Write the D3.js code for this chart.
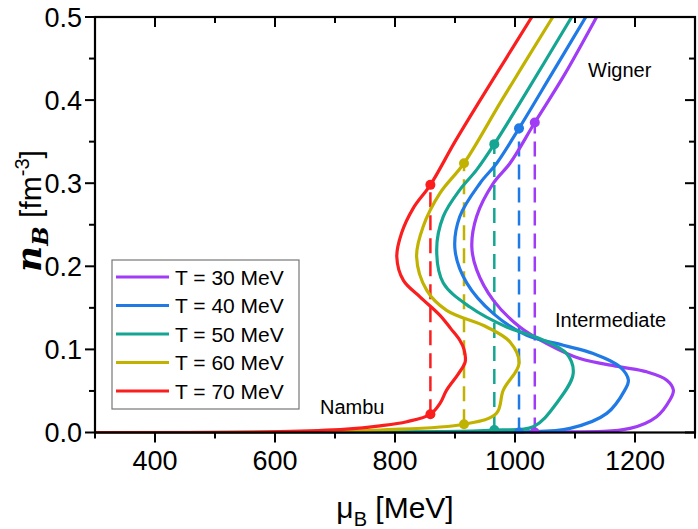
<!DOCTYPE html>
<html>
<head>
<meta charset="utf-8">
<script src="https://cdn.jsdelivr.net/npm/d3@7"></script>
<style>
  body { margin: 0; background: #fff; }
  text { font-family: "Liberation Sans", Arial, sans-serif; fill: #000; }
</style>
</head>
<body>
<div id="chart"></div>
<script>
//Temperatures and colours
var temps = ["T = 30 MeV", "T = 40 MeV", "T = 50 MeV", "T = 60 MeV", "T = 70 MeV"];
var colors = ["#a03cf5", "#1f7ae6", "#15a693", "#c2b200", "#fa1e1e"];

//Curves: baryon density nB and chemical potential muB
var nB30 = [0, 0.0005, 0.005, 0.019, 0.039, 0.051, 0.063, 0.073, 0.079, 0.089, 0.107, 0.127, 0.159, 0.196, 0.224, 0.26, 0.3, 0.324, 0.373, 0.43, 0.5];
var mu30 = [300, 1033, 1191.7, 1236, 1258, 1264, 1253, 1219.5, 1175, 1108, 1053, 1008, 964, 936, 928, 936, 964, 991.7, 1033, 1082, 1136];

var nB40 = [0, 0.0005, 0.005, 0.023, 0.051, 0.063, 0.079, 0.095, 0.105, 0.117, 0.143, 0.18, 0.22, 0.26, 0.3, 0.324, 0.366, 0.43, 0.5];
var mu40 = [300, 1006.7, 1091.7, 1153, 1183, 1189, 1175, 1130.5, 1080.5, 1019.5, 964, 919.5, 900, 908, 941.7, 969.5, 1006.7, 1060, 1118];

var nB50 = [0, 0.001, 0.003, 0.007, 0.035, 0.071, 0.095, 0.113, 0.127, 0.151, 0.18, 0.22, 0.26, 0.292, 0.316, 0.347, 0.4, 0.5];
var mu50 = [300, 880, 965.5, 1030.5, 1069, 1097, 1086, 1041.7, 986, 925, 880.5, 869.5, 880.5, 908, 936, 965.5, 1011, 1094.5];

var nB60 = [0, 0.001, 0.003, 0.0099, 0.023, 0.051, 0.083, 0.109, 0.127, 0.147, 0.171, 0.2115, 0.248, 0.288, 0.324, 0.4, 0.5];
var mu60 = [300, 700, 775, 915, 969, 980.5, 1006.7, 991.7, 952.8, 886, 853, 836, 847, 875, 915, 978, 1063];

var nB70 = [0, 0.001, 0.004, 0.008, 0.013, 0.022, 0.035, 0.051, 0.07, 0.085, 0.1, 0.111, 0.125, 0.141, 0.163, 0.183, 0.2115, 0.24, 0.27, 0.298, 0.35, 0.4, 0.45, 0.5];
var mu70 = [300, 608, 719, 775, 819.5, 859, 875, 886, 905, 917, 915, 908, 893, 875, 842, 814, 803, 811, 830.5, 859, 900, 942, 985, 1028];

//Phase transition points (dashed lines)
var muT = [1033, 1006.7, 965.5, 915, 859];
var nLow = [0, 0, 0.003, 0.0099, 0.022];
var nHigh = [0.373, 0.366, 0.347, 0.324, 0.298];

var xTicks = [400, 600, 800, 1000, 1200];
var yTicks = [0, 0.1, 0.2, 0.3, 0.4, 0.5];

var series = [[nB30, mu30], [nB40, mu40], [nB50, mu50], [nB60, mu60], [nB70, mu70]];

//Setup SVG size vars
var W = 698, H = 529;
var margin = { top: 17, right: 3, bottom: 96.5, left: 95 },
  width = W - margin.left - margin.right,
  height = H - margin.top - margin.bottom;

var svg = d3.select("#chart")
  .append("svg")
  .attr("width", W)
  .attr("height", H);

var g = svg.append("g")
  .attr("transform", "translate(" + margin.left + "," + margin.top + ")");

var x = d3.scaleLinear().domain([300, 1300]).range([0, width]);
var y = d3.scaleLinear().domain([0, 0.5]).range([height, 0]);

g.append("clipPath").attr("id", "clip")
  .append("rect").attr("width", width).attr("height", height + 2).attr("y", -1);

var line = d3.line()
  .x(function(d) { return x(d[1]); })
  .y(function(d) { return y(d[0]); })
  .curve(d3.curveCatmullRom.alpha(0.5));

var plot = g.append("g").attr("clip-path", "url(#clip)");

//Dashed transition lines
muT.forEach(function(m, i) {
  plot.append("line")
    .attr("x1", x(m)).attr("x2", x(m))
    .attr("y1", y(nLow[i])).attr("y2", y(nHigh[i]))
    .style("stroke", colors[i])
    .style("stroke-width", 2.5)
    .style("stroke-dasharray", "15,8");
});

//Curves
series.forEach(function(s, i) {
  var pts = s[0].map(function(n, k) { return [n, s[1][k]]; });
  plot.append("path")
    .datum(pts)
    .attr("d", line)
    .style("fill", "none")
    .style("stroke", colors[i])
    .style("stroke-width", 3.2)
    .style("stroke-linejoin", "round");
});

//Dots at transition
muT.forEach(function(m, i) {
  [nLow[i], nHigh[i]].forEach(function(n) {
    plot.append("circle")
      .attr("cx", x(m)).attr("cy", y(n)).attr("r", 5)
      .style("fill", colors[i]);
  });
});

//Axes
var tickVals = d3.range(300, 1301, 100);
var yMinor = d3.range(0, 0.501, 0.05);

function drawTicks(sel, vals, isX, pos, dir) {
  vals.forEach(function(v) {
    var major = isX ? (Math.round(v) % 200 === 0) : (Math.round(v * 100) % 10 === 0);
    var len = major ? 10 : 6;
    if (isX) {
      sel.append("line")
        .attr("x1", x(v)).attr("x2", x(v))
        .attr("y1", pos).attr("y2", pos + dir * len);
    } else {
      sel.append("line")
        .attr("y1", y(v)).attr("y2", y(v))
        .attr("x1", pos).attr("x2", pos + dir * len);
    }
  });
}

var axes = g.append("g").style("stroke", "#000").style("stroke-width", 2);
drawTicks(axes, tickVals, true, height, 1);
drawTicks(axes, tickVals, true, 0, 1);
drawTicks(axes, yMinor, false, 0, -1);
drawTicks(axes, yMinor, false, width, -1);

g.append("rect")
  .attr("width", width).attr("height", height)
  .style("fill", "none").style("stroke", "#000").style("stroke-width", 2.2);

g.selectAll(".xlab").data(xTicks).enter().append("text")
  .attr("x", function(d) { return x(d); })
  .attr("y", height + 37)
  .style("text-anchor", "middle")
  .style("font-size", "27px")
  .text(function(d) { return d; });

g.selectAll(".ylab").data(yTicks).enter().append("text")
  .attr("x", -13)
  .attr("y", function(d) { return y(d); })
  .attr("dy", "0.36em")
  .style("text-anchor", "end")
  .style("font-size", "27px")
  .text(function(d) { return d.toFixed(1); });

//Axis titles
var xt = svg.append("text")
  .attr("x", margin.left + width / 2)
  .attr("y", 518)
  .style("text-anchor", "middle")
  .style("font-size", "30px");
xt.append("tspan").text("\u03bc");
xt.append("tspan").attr("dy", 8).style("font-size", "20px").text("B");
xt.append("tspan").attr("dy", -8).text(" [MeV]");

var yt = svg.append("text")
  .attr("transform", "translate(41,211) rotate(-90)")
  .style("text-anchor", "middle")
  .style("font-size", "30px");
yt.append("tspan")
  .style("font-family", "'DejaVu Serif', serif")
  .style("font-style", "italic").style("font-weight", "bold")
  .style("font-size", "36px").text("n");
yt.append("tspan").attr("dy", 7)
  .style("font-family", "'DejaVu Serif', serif")
  .style("font-style", "italic").style("font-weight", "bold")
  .style("font-size", "23px").text("B");
yt.append("tspan").attr("dy", -7).text(" [fm");
yt.append("tspan").attr("dy", -12).style("font-size", "20px").text("-3");
yt.append("tspan").attr("dy", 12).text("]");

//Annotations
g.append("text").attr("x", 588 - margin.left).attr("y", 77 - margin.top)
  .style("font-size", "20px").text("Wigner");
g.append("text").attr("x", 555 - margin.left).attr("y", 327 - margin.top)
  .style("font-size", "20px").text("Intermediate");
g.append("text").attr("x", 320 - margin.left).attr("y", 414 - margin.top)
  .style("font-size", "20px").text("Nambu");

//Legend
var legend = svg.append("g").attr("transform", "translate(112,260)");
legend.append("rect")
  .attr("width", 187).attr("height", 149)
  .style("fill", "#fff").style("stroke", "#777").style("stroke-width", 1.2);

temps.forEach(function(t, i) {
  var ly = 17 + i * 28.5;
  legend.append("line")
    .attr("x1", 4).attr("x2", 57)
    .attr("y1", ly).attr("y2", ly)
    .style("stroke", colors[i]).style("stroke-width", 3.2);
  legend.append("text")
    .attr("x", 63).attr("y", ly)
    .attr("dy", "0.36em")
    .style("font-size", "21px")
    .text(t);
});
</script>
</body>
</html>
